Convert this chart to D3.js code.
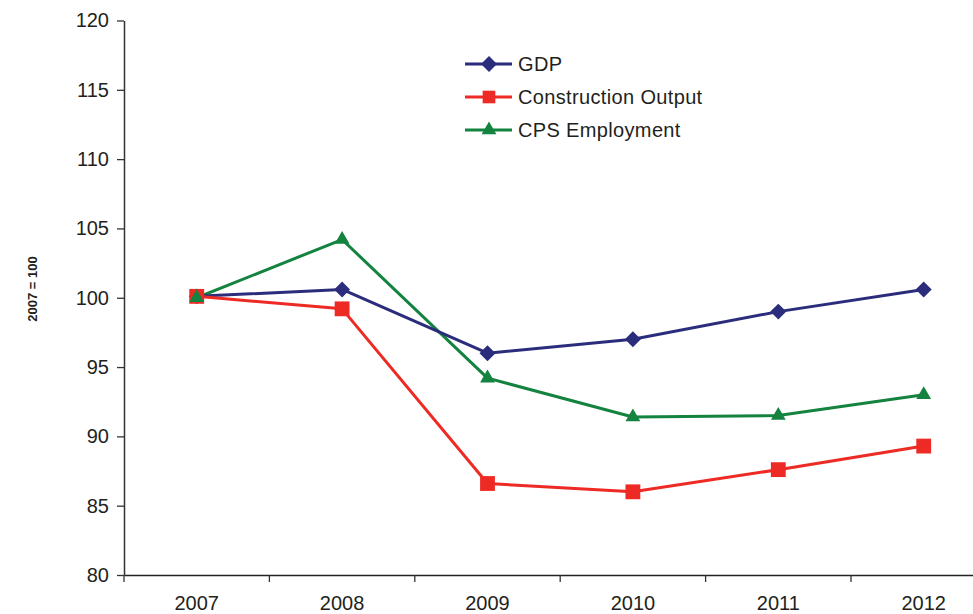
<!DOCTYPE html>
<html><head><meta charset="utf-8">
<script src="https://cdn.jsdelivr.net/npm/d3@7"></script>
<style>body{margin:0;background:#fff}svg{display:block}</style>
</head><body>
<script>
const years = ["2007","2008","2009","2010","2011","2012"];
const gdp = [100.1, 100.6, 96.0, 97.0, 99.0, 100.6];
const construction = [100.1, 99.2, 86.6, 86.0, 87.6, 89.3];
const cps = [100.0, 104.2, 94.2, 91.4, 91.5, 93.0];
const yTicks = [80, 85, 90, 95, 100, 105, 110, 115, 120];
const seriesNames = ["GDP", "Construction Output", "CPS Employment"];

const W = 973, H = 614;
const svg = d3.select("body").append("svg").attr("width", W).attr("height", H);
const x = d3.scaleBand().domain(years).range([124, 996.4]).padding(0);
const y = d3.scaleLinear().domain([80, 120]).range([575, 20.5]);
const font = "'Liberation Sans', Arial, sans-serif";

// y axis
const ya = svg.append("g").attr("transform", "translate(124,0)")
  .call(d3.axisLeft(y).tickValues(yTicks).tickSize(7).tickSizeOuter(0).tickPadding(8));
ya.select(".domain").attr("stroke", "#333").attr("stroke-width", 1.5);
ya.selectAll(".tick line").attr("stroke", "#333").attr("stroke-width", 1.3);
ya.selectAll("text").attr("font-family", font).attr("font-size", 20).attr("fill", "#231f20");

// x axis
const xa = svg.append("g").attr("transform", "translate(0,575)")
  .call(d3.axisBottom(x).tickSize(0).tickPadding(21));
xa.select(".domain").attr("stroke", "#222").attr("stroke-width", 1.5);
xa.selectAll("text").attr("font-family", font).attr("font-size", 20).attr("fill", "#231f20");
const bounds = years.map((d, i) => x.range()[0] + i * x.step()).concat([x.range()[1]]);
svg.append("g").selectAll("line").data(bounds).join("line")
  .attr("x1", d => d).attr("x2", d => d).attr("y1", 575).attr("y2", 582)
  .attr("stroke", "#333").attr("stroke-width", 1.3);

// y label
svg.append("text").attr("transform", "translate(32,289) rotate(-90)")
  .attr("text-anchor", "middle").attr("dy", "0.35em").attr("font-family", font).attr("font-weight", "bold")
  .attr("font-size", 13).attr("fill", "#231f20").text("2007 = 100");

const series = [
  {name: seriesNames[0], values: gdp, color: "#2b2d7c", sym: d3.symbolDiamond, size: 170},
  {name: seriesNames[1], values: construction, color: "#ee2a24", sym: d3.symbolSquare, size: 220},
  {name: seriesNames[2], values: cps, color: "#13833f", sym: d3.symbolTriangle, size: 95}
];
const cx = d => x(d) + x.bandwidth() / 2;
const line = d3.line().x((d, i) => cx(years[i])).y(d => y(d));

const order = [2, 0, 1];
order.forEach(k => {
  const s = series[k];
  svg.append("path").datum(s.values).attr("d", line).attr("fill", "none")
    .attr("stroke", s.color).attr("stroke-width", 3).attr("stroke-linejoin", "round");
});
[0, 1, 2].forEach(k => {
  const s = series[k];
  const sym = s.sym === d3.symbolDiamond ? d3.symbol().type(d3.symbolSquare).size(s.size * 0.75) : d3.symbol().type(s.sym).size(s.size);
  svg.append("g").selectAll("path").data(s.values).join("path")
    .attr("d", sym)
    .attr("transform", (d, i) => `translate(${cx(years[i])},${y(d)})` + (s.sym === d3.symbolDiamond ? " rotate(45)" : ""))
    .attr("fill", s.color);
});

// legend
const lg = svg.append("g");
series.forEach((s, i) => {
  const ly = 64 + i * 33;
  lg.append("line").attr("x1", 465).attr("x2", 512).attr("y1", ly).attr("y2", ly)
    .attr("stroke", s.color).attr("stroke-width", 3);
  const sym = s.sym === d3.symbolDiamond ? d3.symbol().type(d3.symbolSquare).size(s.size * 0.75) : d3.symbol().type(s.sym).size(s.sym === d3.symbolSquare ? 160 : s.size);
  lg.append("path").attr("d", sym)
    .attr("transform", `translate(489,${ly})` + (s.sym === d3.symbolDiamond ? " rotate(45)" : ""))
    .attr("fill", s.color);
  lg.append("text").attr("x", 518).attr("y", ly).attr("dy", "0.35em")
    .attr("font-family", font).attr("font-size", 20).attr("letter-spacing", 0.35).attr("fill", "#231f20").text(s.name);
});
</script>
</body></html>
